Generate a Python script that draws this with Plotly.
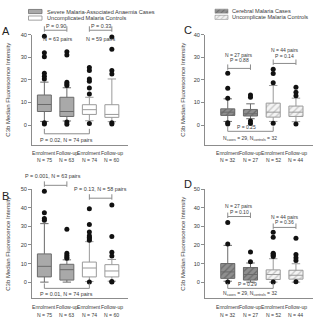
import plotly.graph_objects as go

W, H = 324, 328

positions = [1, 2, 3, 4]
x_labels = ["Enrolment", "Follow-up", "Enrolment", "Follow-up"]

# ---------------- data ----------------
# Panel A
a_n = [75, 63, 74, 60]
a_q1 = [6.0, 3.8, 4.7, 3.4]
a_med = [9.1, 6.0, 6.8, 4.7]
a_q3 = [13.3, 12.3, 9.0, 9.0]
a_lo = [1.6, 1.8, 1.9, 1.5]
a_hi = [19.0, 16.5, 12.3, 20.4]
a_out = [[39.3, 32.0, 30.2, 22.9, 21.6, 20.4, 1.0, 0.5],
         [32.5, 31.0, 19.0, 18.2, 17.5, 1.3, 0.3],
         [25.5, 24.1, 20.4, 19.4, 16.4, 13.8, 0.7],
         [39.0, 33.6, 24.1, 22.6, 1.0, 0.5]]
a_pairs = ["P = 0.90", "P = 0.33"]
a_pairs_n = ["N = 63 pairs", "N = 59 pairs"]
a_bottom = "P = 0.02, N = 74 pairs"

# Panel B
b_n = [75, 63, 74, 60]
b_q1 = [2.8, 1.1, 2.8, 2.8]
b_med = [8.5, 6.7, 7.6, 6.0]
b_q3 = [15.2, 9.6, 10.8, 9.4]
b_lo = [0.0, 0.0, 0.3, 0.5]
b_hi = [31.5, 12.0, 21.8, 12.2]
b_out = [[49.0, 37.4, 34.2, 33.3],
         [28.5, 15.5, 14.5, 13.5, 12.8],
         [39.5, 31.0, 27.0, 25.0, 24.2, 23.4, 22.6, 0.0],
         [41.5, 24.6, 16.1, 14.0, 0.0, 0.3]]
b_pairs = ["P = 0.001, N = 63 pairs", "P = 0.13, N = 58 pairs"]
b_bottom = "P = 0.01, N = 74 pairs"

# Panel C
c_n = [32, 27, 52, 44]
c_q1 = [4.3, 4.0, 3.5, 3.8]
c_med = [5.7, 5.0, 5.7, 5.7]
c_q3 = [7.2, 6.9, 9.7, 8.4]
c_lo = [1.6, 2.8, 1.6, 1.5]
c_hi = [11.6, 9.4, 17.5, 11.9]
c_out = [[22.9, 16.3, 11.9, 1.0, 0.5],
         [13.3, 12.3, 1.8, 0.7],
         [24.7, 22.8, 18.7, 0.8],
         [16.7, 14.5, 13.0, 0.5]]
c_pairs_n = ["N = 27 pairs", "N = 44 pairs"]
c_pairs = ["P = 0.88", "P = 0.14"]
c_bottom_p = "P = 0.25"
c_bottom_n = "N<sub>cases</sub> = 29, N<sub>controls</sub> = 32"

# Panel D
d_n = [32, 27, 52, 44]
d_q1 = [2.0, 1.1, 1.4, 1.6]
d_med = [5.5, 4.1, 4.1, 3.7]
d_q3 = [10.0, 7.8, 6.6, 6.4]
d_lo = [0.5, 0.0, 0.0, 0.0]
d_hi = [19.8, 10.3, 12.6, 9.9]
d_out = [[32.1, 20.5, 0.0],
         [16.2, 11.0],
         [26.8, 24.1, 15.6, 15.2, 14.5, 13.8, 0.0],
         [23.6, 14.9, 13.1, 11.7, 0.2]]
d_pairs_n = ["N = 27 pairs", "N = 44 pairs"]
d_pairs = ["P = 0.10", "P = 0.36"]
d_bottom_p = "P = 0.29"
d_bottom_n = "N<sub>cases</sub> = 29, N<sub>controls</sub> = 32"

legend_ab = ["Severe Malaria-Associated Anaemia Cases", "Uncomplicated Malaria Controls"]
legend_cd = ["Cerebral Malaria Cases", "Uncomplicate Malaria Controls"]
y_title = "C3b Median Fluorescence Intensity"

# ---------------- layout geometry (pixels) ----------------
FONT = "Liberation Sans, Arial, sans-serif"
TXT = "#3a3a3a"
GRID = "#8c8c8c"

geo = {
    "A": dict(ax=1, xd=(32, 127.6), xr=(0.45, 4.7), yd=(32, 143), yr=(-8.7, 40), top=40),
    "B": dict(ax=2, xd=(32, 127.6), xr=(0.45, 4.7), yd=(188, 298), yr=(-8.7, 50), top=50),
    "C": dict(ax=3, xd=(205, 313), xr=(0.0, 4.75), yd=(32, 143), yr=(-8.7, 40), top=40),
    "D": dict(ax=4, xd=(205, 313), xr=(0.0, 4.75), yd=(188, 298), yr=(-8.7, 50), top=50),
}


def px2x(px):
    return px / W


def px2y(py):
    return 1 - py / H


def data2px(g, xv):
    x0, x1 = g["xd"]
    r0, r1 = g["xr"]
    return x0 + (xv - r0) / (r1 - r0) * (x1 - x0)


fig = go.Figure()
shapes = []
annotations = []


def ann(text, xpx, ypx, size=5.4, xanchor="center", color=TXT, angle=0):
    annotations.append(dict(text=text, x=px2x(xpx), y=px2y(ypx), xref="paper", yref="paper",
                            showarrow=False, xanchor=xanchor, yanchor="middle", borderpad=0,
                            textangle=angle, font=dict(size=size, color=color, family=FONT)))


def line(x0, y0, x1, y1, color=GRID, width=1):
    shapes.append(dict(type="line", xref="paper", yref="paper", x0=px2x(x0), y0=px2y(y0),
                       x1=px2x(x1), y1=px2y(y1), line=dict(color=color, width=width)))


def bracket(g, i, j, ypx, up=4, down=1.5):
    xa = data2px(g, positions[i])
    xb = data2px(g, positions[j])
    line(xa, ypx, xb, ypx)
    line(xa, ypx - up, xa, ypx + down)
    line(xb, ypx - up, xb, ypx + down)
    return (xa + xb) / 2


panel_data = {
    "A": (a_q1, a_med, a_q3, a_lo, a_hi, a_out, a_n, False),
    "B": (b_q1, b_med, b_q3, b_lo, b_hi, b_out, b_n, False),
    "C": (c_q1, c_med, c_q3, c_lo, c_hi, c_out, c_n, True),
    "D": (d_q1, d_med, d_q3, d_lo, d_hi, d_out, d_n, True),
}

BOXW = 0.62
for key, (q1, med, q3, lo, hi, out, ns, hatched) in panel_data.items():
    g = geo[key]
    k = g["ax"]
    xa = "x" if k == 1 else f"x{k}"
    ya = "y" if k == 1 else f"y{k}"
    groups = [(slice(0, 2), "case"), (slice(2, 4), "ctrl")]
    for sl, kind in groups:
        xs = positions[sl]
        if hatched:
            bg = "#8f8f8f" if kind == "case" else "#f4f4f4"
            fg = "#4a4a4a" if kind == "case" else "#9a9a9a"
            fig.add_trace(go.Bar(
                x=xs, base=q1[sl], y=[b - a for a, b in zip(q1[sl], q3[sl])], width=BOXW,
                marker=dict(color=bg, line=dict(width=0),
                            pattern=dict(shape="/", fgcolor=fg, bgcolor=bg, size=4.5, solidity=0.3)),
                xaxis=xa, yaxis=ya, showlegend=False, hoverinfo="skip"))
            fill = "rgba(0,0,0,0)"
        else:
            fill = "#a9a9a9" if kind == "case" else "#ffffff"
        lc = "#6a6a6a" if kind == "case" else "#9a9a9a"
        fig.add_trace(go.Box(
            x=xs, q1=q1[sl], median=med[sl], q3=q3[sl], lowerfence=lo[sl], upperfence=hi[sl],
            width=BOXW, whiskerwidth=0.6, fillcolor=fill, line=dict(color=lc, width=1),
            boxpoints=False, xaxis=xa, yaxis=ya, showlegend=False, hoverinfo="skip"))
    ox, oy = [], []
    for p, vals in zip(positions, out):
        ox += [p] * len(vals)
        oy += vals
    fig.add_trace(go.Scatter(x=ox, y=oy, mode="markers", marker=dict(color="#111111", size=5),
                             xaxis=xa, yaxis=ya, showlegend=False, hoverinfo="skip", cliponaxis=False))

    # x labels
    for p, lab, n in zip(positions, x_labels, ns):
        xp = data2px(g, p)
        ybase = 151 if g["yd"][0] < 100 else 307
        ann(lab, xp, ybase, size=5.1)
        ann(f"N = {n}", xp, ybase + 7.5, size=5.1)
    # y title
    tx = 8 if key in ("A", "B") else 183
    ann(y_title, tx, (g["yd"][0] + g["yd"][1]) / 2, size=6, angle=-90)

layout_axes = {}
for key, g in geo.items():
    k = g["ax"]
    xn = "xaxis" if k == 1 else f"xaxis{k}"
    yn = "yaxis" if k == 1 else f"yaxis{k}"
    xa = "x" if k == 1 else f"x{k}"
    ya = "y" if k == 1 else f"y{k}"
    layout_axes[xn] = dict(domain=[px2x(g["xd"][0]), px2x(g["xd"][1])], range=list(g["xr"]),
                           anchor=ya, showline=True, linecolor=GRID, linewidth=1, ticks="",
                           showticklabels=False, showgrid=False, zeroline=False, fixedrange=True)
    layout_axes[yn] = dict(domain=[px2y(g["yd"][1]), px2y(g["yd"][0])], range=list(g["yr"]),
                           anchor=xa, showline=True, linecolor=GRID, linewidth=1, ticks="outside",
                           ticklen=3, tickcolor=GRID, tickvals=list(range(0, g["top"] + 1, 10)),
                           tickfont=dict(size=5.6, color=TXT, family=FONT), showgrid=False,
                           zeroline=False, fixedrange=True)

# ---- brackets & p-values ----
gA, gB, gC, gD = geo["A"], geo["B"], geo["C"], geo["D"]
cx = bracket(gA, 0, 1, 27.5)
ann(a_pairs[0], cx, 23.5)
ann(a_pairs_n[0], cx + 2, 36)
cx = bracket(gA, 2, 3, 27.5)
ann(a_pairs[1], cx, 23.5)
ann(a_pairs_n[1], cx, 36)
cx = bracket(gA, 0, 2, 132, up=5, down=0)
ann(a_bottom, cx, 138)

cx = bracket(gB, 0, 1, 184)
ann(b_pairs[0], cx - 3, 174.5)
cx = bracket(gB, 2, 3, 197)
ann(b_pairs[1], cx, 188)
cx = bracket(gB, 0, 2, 288, up=5, down=0)
ann(b_bottom, cx, 294)

cx = bracket(gC, 0, 1, 66)
ann(c_pairs_n[0], cx, 52, size=5)
ann(c_pairs[0], cx, 58, size=5)
cx = bracket(gC, 2, 3, 61)
ann(c_pairs_n[1], cx, 47, size=5)
ann(c_pairs[1], cx, 53, size=5)
cx = bracket(gC, 0, 2, 129.5, up=5, down=0)
ann(c_bottom_p, cx - 4, 125.5, size=5)
ann(c_bottom_n, cx, 136.5, size=5)

cx = bracket(gD, 0, 1, 215.5)
ann(d_pairs_n[0], cx, 204.5, size=5)
ann(d_pairs[0], cx, 210.5, size=5)
cx = bracket(gD, 2, 3, 226.5)
ann(d_pairs_n[1], cx, 215.5, size=5)
ann(d_pairs[1], cx, 221.5, size=5)
cx = bracket(gD, 0, 2, 288, up=5, down=0)
ann(d_bottom_p, cx - 3, 284, size=5)
ann(d_bottom_n, cx, 293.5, size=5)

# ---- panel letters ----
ann("A", 5.5, 28, size=11, color="#222")
ann("B", 5.5, 195, size=11, color="#222")
ann("C", 188, 27, size=11, color="#222")
ann("D", 188, 183, size=11, color="#222")

# ---- legends ----
shapes.append(dict(type="rect", xref="paper", yref="paper", x0=px2x(28.5), x1=px2x(42), y0=px2y(10.7),
                   y1=px2y(6.5), fillcolor="#a9a9a9", line=dict(color="#6f6f6f", width=0.8)))
shapes.append(dict(type="rect", xref="paper", yref="paper", x0=px2x(28.5), x1=px2x(42), y0=px2y(17.3),
                   y1=px2y(13.1), fillcolor="#ffffff", line=dict(color="#8a8a8a", width=0.8)))
ann(legend_ab[0], 46, 8.6, size=5.6, xanchor="left")
ann(legend_ab[1], 46, 15.2, size=5.6, xanchor="left")

sw = [(6.2, 10.4, "#8f8f8f", "#4a4a4a"), (12.4, 16.6, "#f4f4f4", "#9a9a9a")]
for idx, (t, b, bg, fg) in enumerate(sw):
    k = 5 + idx
    fig.add_trace(go.Bar(x=[0.5], y=[1], base=[0], width=1,
                         marker=dict(color=bg, line=dict(width=0),
                                     pattern=dict(shape="/", fgcolor=fg, bgcolor=bg, size=3.5, solidity=0.3)),
                         xaxis=f"x{k}", yaxis=f"y{k}", showlegend=False, hoverinfo="skip"))
    layout_axes[f"xaxis{k}"] = dict(domain=[px2x(215), px2x(228)], range=[0, 1], visible=False,
                                    anchor=f"y{k}", fixedrange=True)
    layout_axes[f"yaxis{k}"] = dict(domain=[px2y(b), px2y(t)], range=[0, 1], visible=False,
                                    anchor=f"x{k}", fixedrange=True)
    shapes.append(dict(type="rect", xref="paper", yref="paper", x0=px2x(215), x1=px2x(228),
                       y0=px2y(b), y1=px2y(t), line=dict(color="#8a8a8a", width=0.6)))
ann(legend_cd[0], 231, 8.3, size=5.6, xanchor="left")
ann(legend_cd[1], 231, 14.5, size=5.6, xanchor="left")

fig.update_layout(
    width=W, height=H, margin=dict(l=0, r=0, t=0, b=0),
    paper_bgcolor="white", plot_bgcolor="white",
    barmode="overlay", boxmode="overlay", bargap=0,
    shapes=shapes, annotations=annotations,
    font=dict(family=FONT, color=TXT),
    **layout_axes,
)

fig.write_html("out.html")
